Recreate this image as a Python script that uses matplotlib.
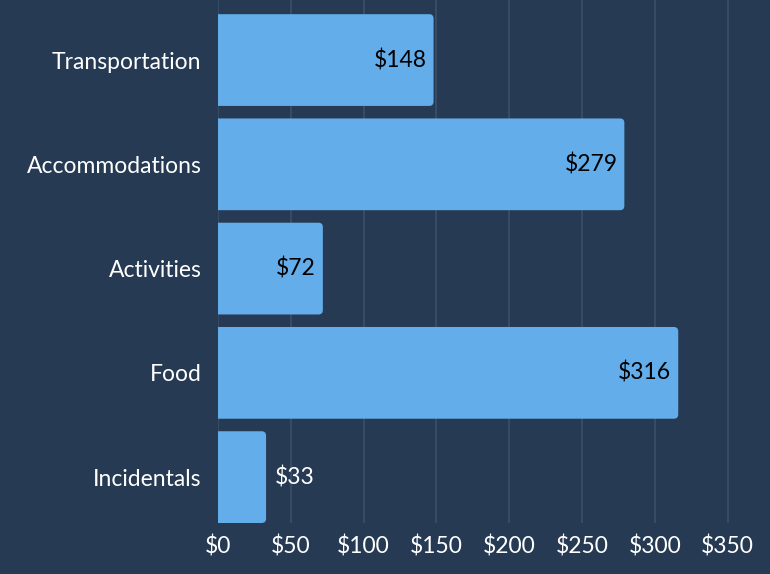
import matplotlib.pyplot as plt
from matplotlib.patches import FancyBboxPatch
from matplotlib.ticker import FuncFormatter

categories = ['Transportation', 'Accommodations', 'Activities', 'Food', 'Incidentals']
costs = [148, 279, 72, 316, 33]

bg = '#263a54'
bar_color = '#62adea'
grid_color = '#3b4f68'

plt.rcParams['font.family'] = ['Lato', 'DejaVu Sans']

fig = plt.figure(figsize=(7.7, 5.74), dpi=100, facecolor=bg)
ax = fig.add_axes([218 / 770, 1 - 523 / 574, 1 - 218 / 770, 523 / 574])
ax.set_facecolor(bg)

ypos = list(range(len(categories)))
bars = ax.barh(ypos, costs, height=0.88, color=bar_color)

# swap plain bars for ones with rounded corners (x px/unit ~1.46, y px/unit ~104)
aspect = (552 / 379) / 104.25
for b in bars:
    x, y = b.get_x(), b.get_y()
    w, h = b.get_width(), b.get_height()
    b.set_visible(False)
    patch = FancyBboxPatch((x - 10, y), w + 10, h,
                           boxstyle='round,pad=0,rounding_size=3',
                           mutation_aspect=aspect,
                           fc=bar_color, ec='none', zorder=2)
    ax.add_patch(patch)

fs = 16.5
for y, v in zip(ypos, costs):
    if v > 50:
        ax.annotate('$%d' % v, (v, y), xytext=(-5, 0), textcoords='offset points',
                    ha='right', va='center', color='black', fontsize=fs, zorder=3)
    else:
        ax.annotate('$%d' % v, (v, y), xytext=(6, 0), textcoords='offset points',
                    ha='left', va='center', color='white', fontsize=fs, zorder=3)

ax.set_xlim(0, 379)
ax.set_ylim(4.44, -0.576)
ax.set_xticks(range(0, 351, 50))
ax.xaxis.set_major_formatter(FuncFormatter(lambda v, p: '$%d' % v))
ax.set_yticks(ypos)
ax.set_yticklabels(categories)
ax.tick_params(axis='both', length=0, colors='white', labelsize=fs)
ax.tick_params(axis='y', pad=12)
ax.tick_params(axis='x', pad=9)
ax.grid(axis='x', color=grid_color, linewidth=1.2, zorder=0)
ax.set_axisbelow(True)
for s in ax.spines.values():
    s.set_visible(False)

fig.savefig('out.png', dpi=100, facecolor=bg)
